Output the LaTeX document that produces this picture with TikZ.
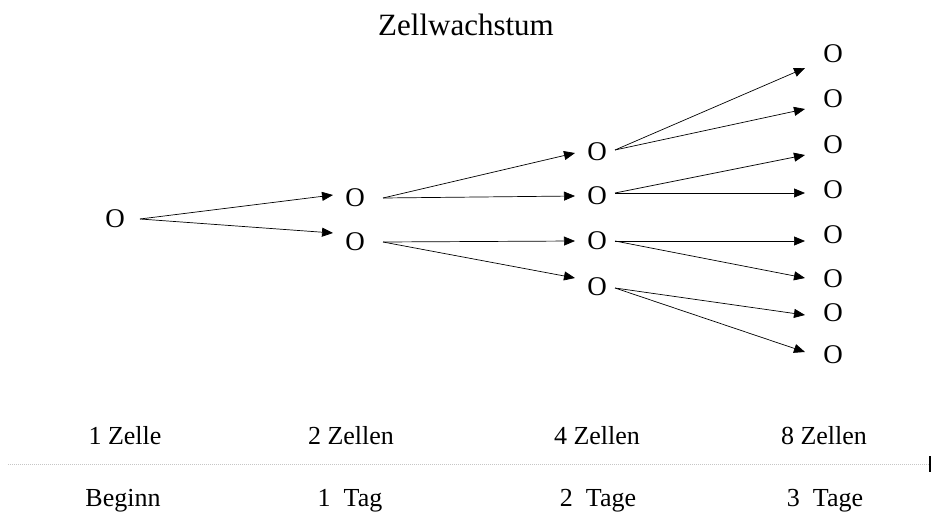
\documentclass[tikz,border=0pt]{standalone}
\usepackage{fontspec}
\setmainfont{Liberation Serif}
\usetikzlibrary{arrows.meta}
\begin{document}
\begin{tikzpicture}[x=1pt,y=-1pt,
  cell/.style={inner sep=0pt,font=\fontsize{27}{30}\selectfont},
  lab/.style={inner sep=0pt,anchor=base,font=\fontsize{26}{30}\selectfont},
  ttl/.style={inner sep=0pt,anchor=base,font=\fontsize{31}{34}\selectfont},
  arr/.style={line width=0.7pt,-{Triangle[length=11pt,width=9pt]}},
  axis/.style={gray!45,line width=1pt,dash pattern=on 1pt off 1pt}]
\useasboundingbox (0,0) rectangle (932,513);
\node[ttl] (title) at (466,36) {Zellwachstum};
% cells
\node[cell] (r) at (115,219) {O};
\node[cell] (a) at (355,198) {O};
\node[cell] (b) at (355,242) {O};
\node[cell] (c1) at (597,152) {O};
\node[cell] (c2) at (597,196) {O};
\node[cell] (c3) at (597,241) {O};
\node[cell] (c4) at (597,287) {O};
\node[cell] (d1) at (833,54) {O};
\node[cell] (d2) at (833,99) {O};
\node[cell] (d3) at (833,145) {O};
\node[cell] (d4) at (833,190) {O};
\node[cell] (d5) at (833,235) {O};
\node[cell] (d6) at (833,279) {O};
\node[cell] (d7) at (833,313) {O};
\node[cell] (d8) at (833,355) {O};
% arrows
\draw[arr] ([xshift=25pt]r.center) -- ([xshift=-22pt,yshift=3pt]a.center);
\draw[arr] ([xshift=25pt]r.center) -- ([xshift=-22pt,yshift=9pt]b.center);
\draw[arr] ([xshift=28pt]a.center) -- ([xshift=-22pt,yshift=-1pt]c1.center);
\draw[arr] ([xshift=28pt]a.center) -- ([xshift=-22pt]c2.center);
\draw[arr] ([xshift=28pt]b.center) -- ([xshift=-22pt]c3.center);
\draw[arr] ([xshift=28pt]b.center) -- ([xshift=-22pt,yshift=9pt]c4.center);
\draw[arr] ([xshift=18pt,yshift=2pt]c1.center) -- ([xshift=-28pt,yshift=-14pt]d1.center);
\draw[arr] ([xshift=18pt,yshift=2pt]c1.center) -- ([xshift=-28pt,yshift=-10pt]d2.center);
\draw[arr] ([xshift=18pt,yshift=3pt]c2.center) -- ([xshift=-28pt,yshift=-10pt]d3.center);
\draw[arr] ([xshift=18pt,yshift=3pt]c2.center) -- ([xshift=-28pt,yshift=-3pt]d4.center);
\draw[arr] ([xshift=18pt]c3.center) -- ([xshift=-28pt,yshift=-6pt]d5.center);
\draw[arr] ([xshift=18pt]c3.center) -- ([xshift=-28pt,yshift=1pt]d6.center);
\draw[arr] ([xshift=18pt,yshift=-1pt]c4.center) -- ([xshift=-28pt,yshift=-2pt]d7.center);
\draw[arr] ([xshift=18pt,yshift=-1pt]c4.center) -- ([xshift=-28pt,yshift=3pt]d8.center);
% labels
\node[lab] (z1) at (125,444) {1 Zelle};
\node[lab] (z2) at (351,444) {2 Zellen};
\node[lab] (z4) at (597,444) {4 Zellen};
\node[lab] (z8) at (824,444) {8 Zellen};
\node[lab] (t0) at (123,506) {Beginn};
\node[lab] (t1) at (350,506) {1\ \ Tag};
\node[lab] (t2) at (598,506) {2\ \ Tage};
\node[lab] (t3) at (825,506) {3\ \ Tage};
% time axis
\coordinate (ax0) at (8,464);
\coordinate (ax1) at (930,464);
\draw[axis] (ax0) -- (ax1);
\draw[line width=1.5pt] ([yshift=8pt]ax1) -- ([yshift=-8pt]ax1);
\end{tikzpicture}
\end{document}
